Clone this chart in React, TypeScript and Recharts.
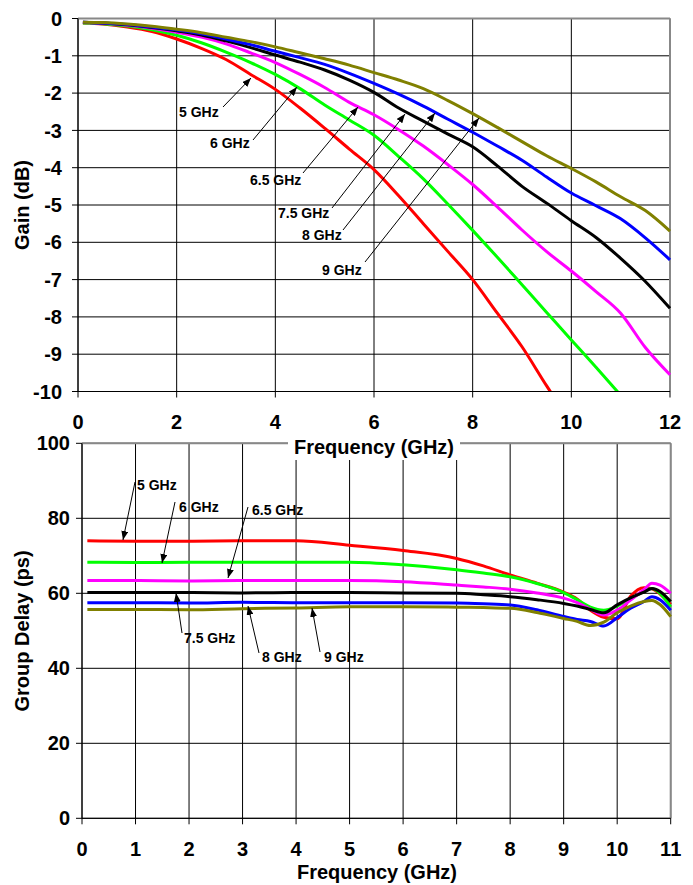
import React from "react";
import { LineChart, Line, XAxis, YAxis, CartesianGrid, ReferenceLine } from "recharts";

const FONT = "Arial, 'Liberation Sans', sans-serif";

// ---- Gain vs frequency (top panel) ----
const gainFreq = [0.1, 0.5, 1, 1.5, 2, 2.5, 3, 3.5, 4, 4.5, 5, 5.5, 6, 6.5, 7, 7.5, 8, 8.5, 9, 9.5, 10, 10.5, 11, 11.5, 12];
const gain5 = [-0.12, -0.15, -0.23, -0.35, -0.55, -0.8, -1.1, -1.5, -1.9, -2.4, -2.94, -3.5, -4.05, -4.75, -5.5, -6.25, -7.0, -7.9, -8.8, -9.85, -10.85, null, null, null, null];
const gain6 = [-0.12, -0.14, -0.2, -0.3, -0.45, -0.65, -0.9, -1.18, -1.5, -1.88, -2.32, -2.72, -3.13, -3.7, -4.3, -4.98, -5.68, -6.4, -7.14, -7.88, -8.62, -9.35, -10.1, null, null];
const gain65 = [-0.11, -0.13, -0.18, -0.26, -0.37, -0.5, -0.68, -0.92, -1.18, -1.5, -1.85, -2.25, -2.58, -2.98, -3.42, -3.92, -4.45, -5.05, -5.67, -6.25, -6.77, -7.32, -7.9, -8.82, -9.55];
const gain75 = [-0.1, -0.12, -0.17, -0.24, -0.33, -0.44, -0.6, -0.78, -0.98, -1.17, -1.38, -1.65, -1.98, -2.4, -2.75, -3.1, -3.44, -3.95, -4.5, -4.95, -5.42, -5.87, -6.43, -7.05, -7.77];
const gain8 = [-0.1, -0.12, -0.16, -0.23, -0.31, -0.41, -0.55, -0.7, -0.88, -1.05, -1.23, -1.47, -1.74, -2.03, -2.35, -2.7, -3.05, -3.42, -3.8, -4.25, -4.68, -5.02, -5.37, -5.88, -6.47];
const gain9 = [-0.1, -0.11, -0.15, -0.21, -0.29, -0.38, -0.5, -0.62, -0.76, -0.92, -1.08, -1.25, -1.45, -1.65, -1.88, -2.2, -2.55, -2.92, -3.3, -3.68, -4.02, -4.38, -4.78, -5.15, -5.7];
const gainXTicks = [0, 2, 4, 6, 8, 10, 12];
const gainYTicks = [-10, -9, -8, -7, -6, -5, -4, -3, -2, -1, 0];

// ---- Group delay vs frequency (bottom panel) ----
const delayFreq = [0.1, 1, 2, 3, 4, 5, 6, 7, 7.5, 8, 8.5, 9, 9.25, 9.5, 9.75, 10, 10.25, 10.5, 10.65, 10.8, 11];
const delay5 = [74, 73.9, 73.9, 74, 74, 72.8, 71.4, 69.3, 67.3, 64.9, 62.7, 60.3, 58.5, 55.5, 53.6, 53.2, 59.2, 61.5, 61.2, 59.8, 57];
const delay6 = [68.3, 68.2, 68.3, 68.3, 68.3, 68.3, 67.6, 66.3, 65.4, 64.4, 62.6, 60.2, 58.3, 56.3, 55.5, 56.6, 58.5, 60.5, 61.3, 60, 56.4];
const delay65 = [63.4, 63.4, 63.3, 63.4, 63.4, 63.4, 63.1, 62.2, 61.7, 61.1, 60.1, 58.7, 57.5, 55.8, 54.2, 55.5, 58.2, 61, 62.7, 62.2, 60];
const delay75 = [60.2, 60.2, 60.2, 60.1, 60.2, 60.2, 60.1, 60, 59.6, 59.1, 58.3, 57.3, 56.6, 55.7, 54.8, 56.9, 58.8, 60.3, 61.3, 60.5, 57.8];
const delay8 = [57.5, 57.5, 57.4, 57.6, 57.5, 57.5, 57.5, 57.4, 57.2, 56.9, 55.6, 53.8, 53, 52.5, 51.3, 53.5, 56, 57.8, 59.1, 58.3, 55.5];
const delay9 = [55.7, 55.7, 55.6, 55.9, 56.1, 56.4, 56.4, 56.3, 56.2, 56, 54.9, 53.3, 52.5, 51.4, 52.3, 54.8, 56.6, 57.8, 58.1, 57, 53.8];
const delayXTicks = [0, 1, 2, 3, 4, 5, 6, 7, 8, 9, 10, 11];
const delayYTicks = [0, 20, 40, 60, 80, 100];

const SERIES = [
  { key: "s5", color: "#FF0000" },
  { key: "s6", color: "#00FF00" },
  { key: "s65", color: "#FF00FF" },
  { key: "s75", color: "#000000" },
  { key: "s8", color: "#0000FF" },
  { key: "s9", color: "#808000" },
];

const gainData = gainFreq.map((f, i) => ({
  f, s5: gain5[i], s6: gain6[i], s65: gain65[i], s75: gain75[i], s8: gain8[i], s9: gain9[i],
}));
const delayData = delayFreq.map((f, i) => ({
  f, s5: delay5[i], s6: delay6[i], s65: delay65[i], s75: delay75[i], s8: delay8[i], s9: delay9[i],
}));

const tickStyle = { fill: "#000", fontSize: 20, fontWeight: "bold", fontFamily: FONT };

// annotation labels: text position + arrow from tail to head
const topNotes = [
  { text: "5 GHz", x: 179, y: 117, from: [223, 107], to: [251, 78] },
  { text: "6 GHz", x: 210, y: 148, from: [253, 140], to: [297, 87] },
  { text: "6.5 GHz", x: 250, y: 185, from: [303, 173], to: [358, 107] },
  { text: "7.5 GHz", x: 278, y: 218, from: [332, 208], to: [405, 114] },
  { text: "8 GHz", x: 302, y: 240, from: [343, 230], to: [435, 113] },
  { text: "9 GHz", x: 322, y: 275, from: [365, 262], to: [479, 118] },
];
const bottomNotes = [
  { text: "5 GHz", x: 137, y: 490, from: [135, 482], to: [123, 540] },
  { text: "6 GHz", x: 179, y: 512, from: [175, 502], to: [162, 563] },
  { text: "6.5 GHz", x: 252, y: 515, from: [248, 507], to: [228, 578] },
  { text: "7.5 GHz", x: 184, y: 643, from: [182, 633], to: [176, 593] },
  { text: "8 GHz", x: 262, y: 662, from: [259, 653], to: [248, 606] },
  { text: "9 GHz", x: 324, y: 662, from: [320, 652], to: [312, 608] },
];

function Overlay() {
  const notes = [...topNotes, ...bottomNotes];
  return (
    <svg width={693} height={885} style={{ position: "absolute", left: 0, top: 0, pointerEvents: "none" }}>
      <defs>
        <marker id="arrow" markerWidth="9" markerHeight="7" refX="9" refY="3.5" orient="auto" markerUnits="userSpaceOnUse">
          <path d="M0,0 L9,3.5 L0,7 z" fill="#000" />
        </marker>
      </defs>
      {notes.map((n, i) => (
        <g key={i}>
          <line x1={n.from[0]} y1={n.from[1]} x2={n.to[0]} y2={n.to[1]} stroke="#000" strokeWidth={1} markerEnd="url(#arrow)" />
          <text x={n.x} y={n.y} fontSize={14} fontWeight="bold" fontFamily={FONT} fill="#000">{n.text}</text>
        </g>
      ))}
      <text transform="translate(29,205) rotate(-90)" textAnchor="middle" fontSize={20} fontWeight="bold" fontFamily={FONT}>Gain (dB)</text>
      <rect x={288} y={440} width={172} height={20} fill="#fff" />
      <text x={374} y={454} textAnchor="middle" fontSize={20} fontWeight="bold" fontFamily={FONT}>Frequency (GHz)</text>
      <text transform="translate(29,631) rotate(-90)" textAnchor="middle" fontSize={20} fontWeight="bold" fontFamily={FONT}>Group Delay (ps)</text>
      <text x={377} y={879} textAnchor="middle" fontSize={20} fontWeight="bold" fontFamily={FONT}>Frequency (GHz)</text>
    </svg>
  );
}

export default function App() {
  return (
    <div style={{ position: "absolute", left: 0, top: 0, width: 693, height: 885, background: "#fff" }}>
      <div style={{ position: "absolute", left: 0, top: 0 }}>
        <LineChart width={693} height={440} data={gainData} margin={{ top: 18.5, right: 23, bottom: 0, left: 18 }}>
          <CartesianGrid stroke="#000" strokeWidth={1} />
          <XAxis dataKey="f" type="number" domain={[0, 12]} ticks={gainXTicks} height={48.5}
            tick={tickStyle} tickSize={6} tickMargin={17} stroke="#000" tickLine={{ stroke: "#000" }} />
          <YAxis type="number" domain={[-10, 0]} ticks={gainYTicks} width={60} allowDataOverflow
            tick={tickStyle} tickSize={6} tickMargin={10} stroke="#000" tickLine={{ stroke: "#000" }} />
          <ReferenceLine y={0} stroke="#888" strokeWidth={2} />
          <ReferenceLine x={12} stroke="#888" strokeWidth={2} />
          {SERIES.map((s) => (
            <Line key={s.key} dataKey={s.key} stroke={s.color} strokeWidth={3} dot={false}
              type="monotone" isAnimationActive={false} />
          ))}
        </LineChart>
      </div>
      <div style={{ position: "absolute", left: 0, top: 430 }}>
        <LineChart width={693} height={455} data={delayData} margin={{ top: 13.3, right: 22.3, bottom: 0, left: 22 }}>
          <CartesianGrid stroke="#000" strokeWidth={1} />
          <XAxis dataKey="f" type="number" domain={[0, 11]} ticks={delayXTicks} height={66.7}
            tick={tickStyle} tickSize={6} tickMargin={17} stroke="#000" tickLine={{ stroke: "#000" }} />
          <YAxis type="number" domain={[0, 100]} ticks={delayYTicks} width={60}
            tick={tickStyle} tickSize={6} tickMargin={6} stroke="#000" tickLine={{ stroke: "#000" }} />
          <ReferenceLine y={100} stroke="#888" strokeWidth={2} />
          <ReferenceLine x={11} stroke="#888" strokeWidth={2} />
          {SERIES.map((s) => (
            <Line key={s.key} dataKey={s.key} stroke={s.color} strokeWidth={3} dot={false}
              type="monotone" isAnimationActive={false} />
          ))}
        </LineChart>
      </div>
      <Overlay />
    </div>
  );
}
